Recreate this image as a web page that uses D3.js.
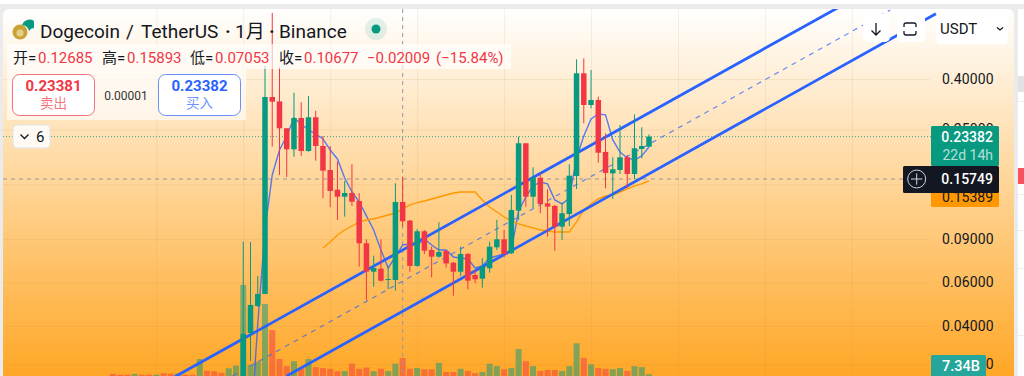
<!DOCTYPE html>
<html lang="en">
<head>
   <meta charset="UTF-8">
   <title>Dogecoin / TetherUS</title>
   <style>
      html, body { margin: 0; padding: 0; background: #fff; overflow: hidden; }
      svg { display: block; }
      text { font-family: Roboto, "Noto Sans CJK SC", sans-serif; }
   </style>
   <script src="https://cdn.jsdelivr.net/npm/d3@7"></script>
</head>
<body>
   <svg id="chart" width="1024" height="376"></svg>
   <script>
      // data. index 0 is the oldest volume bar
      const volumes = [4.1, 3.8, 3.8, 4.1, 3.8, 3.8, 3.8, 4.4, 4.2, 4.2, 3.8, 3.8, 10.2, 5.4, 5.2, 4.6, 6.4, 7.5,
         40.4, 7.8, 9.1, 32.7, 22, 10.2, 7.3, 9.3, 6.4, 10.2, 6.9, 6.5, 6.2, 5.2, 5.3, 8.3, 6.2, 6.7, 5.2, 6.2, 5.3, 8.3, 10.6,
         6.2, 6.5, 6, 6, 8.6, 4.9, 4.9, 6.2, 5.3, 4.4, 4.9, 8.3, 7.3, 6, 6.5, 14.3, 9.3, 7.3, 5.3, 5.7, 5.7, 5.3, 7.3, 16.6,
         10.6, 8, 6.5, 6.2, 6, 6.5, 5.3, 7.3, 6.9, 4]
      const earlyVolumeUp = [0, 0, 0, 1, 0, 0, 1, 0, 0, 1, 0, 0, 1, 0, 0, 0, 1, 1]

      // candles start at bar 18
      const candleStart = 18
      const opens = [.0222, .03749, .04822, .05392, .3382, .3245, .2526, .2077, .2781, .2044, .2799, .2142, .1713, .1425, .1335, .1382, .1283, .08649, .06637, .06826, .06143, .06143, .1271, .1068, .07, .09673, .08126, .07634, .0805, .07219, .06637, .07829, .06437, .06218, .06851, .08332, .08977, .0788, .1172, .2197, .1335, .1594, .1255, .1225, .101, .1136, .162, .4218, .3139, .3289, .2027, .166, .1713, .1928, .165, .2083, .2128]
      const highs = [.0878, .08755, .06377, .4515, .7399, .4473, .2533, .3521, .322, .3414, .2977, .2352, .2142, .1851, .155, .1806, .1379, .08977, .07705, .08977, .06955, .1513, .1609, .1075, .09883, .09791, .0838, .1052, .08126, .07265, .0838, .079, .06744, .07521, .08778, .1075, .09791, .1357, .2337, .2197, .1757, .1666, .1431, .1238, .1264, .1806, .4804, .4849, .4349, .3392, .2412, .1928, .2605, .1969, .2878, .255, .2387]
      const lows = [.021, .02888, .04777, .05392, .2128, .1635, .1605, .1939, .1952, .2031, .1868, .1315, .121, .1075, .1109, .1225, .06955, .05099, .05772, .06046, .05633, .0556, .101, .06637, .06955, .07829, .063, .07563, .0689, .05308, .06377, .05633, .05957, .05718, .06576, .08126, .07591, .07829, .1075, .1217, .1199, .1144, .09198, .08073, .0892, .1016, .1435, .2647, .3044, .1834, .1444, .1307, .165, .1444, .157, .191, .2128]
      const closes = [.03714, .04867, .05392, .3382, .3237, .2526, .2077, .2781, .2044, .2799, .2142, .1702, .1408, .1335, .1382, .1274, .08649, .06637, .06871, .06104, .06201, .1271, .1062, .07, .09673, .08073, .07634, .07976, .07165, .06637, .07829, .06104, .06184, .06955, .0838, .08977, .07829, .118, .2197, .1335, .1594, .1248, .1217, .101, .1144, .1624, .4218, .3139, .3289, .2012, .1666, .1724, .1928, .165, .2097, .2142, .23382]

      // moving averages
      const blueStart = 19
      const maBlue = [.01476, .04077, .09791, .1635, .2064, .2352, .2781, .263, .2487, .2396, .2287, .2064, .1898, .159, .1395, .1271, .1116, .09791, .08126, .06871, .07613, .08514, .08594, .08514, .09003, .08514, .08126, .08126, .07613, .07542, .07472, .06871, .07, .07542, .07685, .07829, .08126, .1169, .1332, .1476, .1532, .1504, .1295, .1248, .1319, .1916, .2352, .2755, .2888, .2862, .2266, .2025, .1916, .188, .1952, .2122]
      const orangeStart = 29
      const maOrange = [.08279, .08755, .09345, .09791, .1016, .1055, .1075, .1085, .1105, .1126, .1147, .1191, .1238, .1264, .1283, .1307, .1332, .1357, .1382, .1395, .1395, .1395, .1295, .1213, .1158, .1105, .1065, .1036, .1016, .0998, .09791, .097, .0961, .0961, .0961, .1055, .118, .1248, .1307, .1344, .1357, .1395, .1435, .1476, .1504, .1546]

      // hand drawn channel, [bar, price] at each end
      const channelUpper = [[8.55, .0249], [100.5, .79]]
      const channelLower = [[24, .02511], [113.6, .735]]
      const channelMiddle = [[16.5, .02511], [107.3, .761]]

      const priceTicks = [.4, .25, .15, .09, .06, .04, .028]
      const yearBars = [6, 18, 30, 42, 54, 66, 78, 90, 102]
      const crosshairBar = 40
      const crosshairPrice = .15749
      const lastPrice = .23382

      // scales
      const xScale = d3.scaleLinear().domain([21, 74]).range([265, 649])
      const yScale = d3.scaleLog().domain([.4, .04]).range([79, 326])
      const volScale = d3.scaleLinear().domain([0, 10]).range([384, 359.5])

      const UP = '#089981', DOWN = '#f23645', BLUE = '#2962ff', ORANGE = '#ff9800'
      const svg = d3.select('#chart')

      const defs = svg.append('defs')
      const grad = defs.append('linearGradient').attr('id', 'bg').attr('gradientUnits', 'userSpaceOnUse')
         .attr('x1', 0).attr('y1', 9).attr('x2', 0).attr('y2', 376)
      grad.append('stop').attr('offset', 0).attr('stop-color', '#ffffff')
      grad.append('stop').attr('offset', 1).attr('stop-color', '#ffa726')
      defs.append('clipPath').attr('id', 'panel').append('rect')
         .attr('x', 3).attr('y', 9).attr('width', 1011).attr('height', 380).attr('rx', 6)

      // page around the panel
      svg.append('rect').attr('y', 4).attr('width', 1024).attr('height', 372).attr('fill', '#ebebeb')
      svg.append('rect').attr('x', 1018).attr('y', 9).attr('width', 6).attr('height', 367).attr('fill', '#fff')
      svg.append('rect').attr('x', 1018).attr('y', 76).attr('width', 6).attr('height', 16).attr('fill', '#e2e2e2')
      svg.append('rect').attr('x', 1018).attr('y', 168).attr('width', 6).attr('height', 16).attr('fill', '#f7525f')
      svg.selectAll('.side-rule').data([101, 194, 230, 268, 335]).enter().append('rect')
         .attr('x', 1018).attr('y', d => d).attr('width', 6).attr('height', 1).attr('fill', '#eeeeee')

      const chart = svg.append('g').attr('clip-path', 'url(#panel)')
      chart.append('rect').attr('x', 3).attr('y', 9).attr('width', 1011).attr('height', 367).attr('fill', 'url(#bg)')

      // grid
      const yGrid = d3.axisLeft(yScale).tickValues(priceTicks).tickSize(-927).tickFormat('')
      const xGrid = d3.axisTop(xScale).tickValues(yearBars).tickSize(-367).tickFormat('')
      const grid = chart.append('g')
      grid.append('g').attr('transform', 'translate(3,0)').call(yGrid)
      grid.append('g').attr('transform', 'translate(0,9)').call(xGrid)
      grid.selectAll('.domain').remove()
      grid.selectAll('line').attr('stroke', '#b08a50').attr('stroke-opacity', .12)

      // volume
      chart.append('g').selectAll('rect').data(volumes).enter().append('rect')
         .attr('x', (d, i) => xScale(i) - 3)
         .attr('y', d => volScale(d))
         .attr('width', 6)
         .attr('height', d => volScale(0) - volScale(d))
         .attr('fill', (d, i) => {
            const up = i < candleStart ? earlyVolumeUp[i] : closes[i - candleStart] >= opens[i - candleStart]
            return up ? UP : DOWN
         })
         .attr('fill-opacity', .5)

      // last price and crosshair
      chart.append('line').attr('x1', 3).attr('x2', 931).attr('y1', yScale(lastPrice)).attr('y2', yScale(lastPrice))
         .attr('stroke', UP).attr('stroke-dasharray', '1 2').attr('stroke-opacity', .8)
      chart.append('line').attr('x1', 3).attr('x2', 903).attr('y1', yScale(crosshairPrice)).attr('y2', yScale(crosshairPrice))
         .attr('stroke', '#9598a1').attr('stroke-dasharray', '4 4')
      chart.append('line').attr('x1', xScale(crosshairBar)).attr('x2', xScale(crosshairBar)).attr('y1', 9).attr('y2', 376)
         .attr('stroke', '#9598a1').attr('stroke-dasharray', '4 4')

      // moving averages
      const maLine = start => d3.line().x((d, i) => xScale(i + start)).y(d => yScale(d))
      chart.append('path').attr('d', maLine(blueStart)(maBlue))
         .attr('fill', 'none').attr('stroke', BLUE).attr('stroke-opacity', .8).attr('stroke-width', 1.4)
      chart.append('path').attr('d', maLine(orangeStart)(maOrange))
         .attr('fill', 'none').attr('stroke', ORANGE).attr('stroke-width', 1.4)

      // channel
      const drawLine = d3.line().x(d => xScale(d[0])).y(d => yScale(d[1]))
      chart.append('path').attr('d', drawLine(channelUpper)).attr('fill', 'none').attr('stroke', BLUE).attr('stroke-width', 2.8)
      chart.append('path').attr('d', drawLine(channelLower)).attr('fill', 'none').attr('stroke', BLUE).attr('stroke-width', 2.8)
      chart.append('path').attr('d', drawLine(channelMiddle)).attr('fill', 'none').attr('stroke', BLUE)
         .attr('stroke-opacity', .7).attr('stroke-dasharray', '5 5').attr('stroke-width', 1.2)

      // candles sit on top of the drawings
      const candles = chart.append('g').selectAll('g').data(opens).enter().append('g')
         .attr('fill', (d, i) => closes[i] >= d ? UP : DOWN)
         .attr('stroke', (d, i) => closes[i] >= d ? UP : DOWN)
      candles.append('line')
         .attr('x1', (d, i) => xScale(i + candleStart))
         .attr('x2', (d, i) => xScale(i + candleStart))
         .attr('y1', (d, i) => yScale(highs[i]))
         .attr('y2', (d, i) => yScale(lows[i]))
      candles.append('rect')
         .attr('x', (d, i) => xScale(i + candleStart) - 2.75)
         .attr('y', (d, i) => yScale(Math.max(d, closes[i])))
         .attr('width', 5.5)
         .attr('height', (d, i) => Math.max(1, Math.abs(yScale(d) - yScale(closes[i]))))
         .attr('stroke', 'none')

      // price axis
      const yAxis = d3.axisRight(yScale).tickValues(priceTicks).tickSize(0).tickPadding(0).tickFormat(d3.format('.5f'))
      const axisG = chart.append('g').attr('transform', 'translate(942,0)').call(yAxis)
      axisG.select('.domain').remove()
      axisG.selectAll('text').attr('fill', '#131722').style('font-size', '14px').style('letter-spacing', '.1px')

      // price tags
      const tag = (x, y, w, h, fill) => chart.append('rect').attr('x', x).attr('y', y).attr('width', w).attr('height', h).attr('fill', fill).attr('rx', 1.5)
      const label = (x, y, str, size, fill, anchor, weight) => svg.append('text').attr('x', x).attr('y', y).text(str)
         .attr('font-size', size).attr('fill', fill).attr('text-anchor', anchor || 'start').attr('font-weight', weight || 400)

      tag(931, 355, 55, 22, '#26a69a')
      tag(931, 186, 68, 21, ORANGE)
      tag(931, 126, 68, 40, UP)
      tag(903, 166, 96, 27, '#131722')
      label(993, 142, '0.23382', 14, '#fff', 'end', 500)
      label(993, 160, '22d 14h', 14, '#fff', 'end').attr('fill-opacity', .7)
      label(993, 184, '0.15749', 14, '#fff', 'end', 500)
      label(993, 202, '0.15389', 14, '#131722', 'end')
      label(942, 371, '7.34B', 14.5, '#fff', 'start', 500)
      svg.append('circle').attr('cx', 916.7).attr('cy', 179).attr('r', 9).attr('fill', 'none').attr('stroke', '#d1d4dc')
      svg.append('path').attr('d', 'M911 179H922.4M916.7 173.3V184.7').attr('stroke', '#d1d4dc')

      // legend backdrops
      svg.append('rect').attr('x', 7).attr('y', 44).attr('width', 504).attr('height', 25).attr('fill', '#fff').attr('fill-opacity', .65)
      svg.append('rect').attr('x', 7).attr('y', 69).attr('width', 239).attr('height', 51).attr('fill', '#fff').attr('fill-opacity', .65)

      // title
      svg.append('circle').attr('cx', 20).attr('cy', 32).attr('r', 7.5).attr('fill', '#c9a233')
      svg.append('circle').attr('cx', 20).attr('cy', 33).attr('r', 3.5).attr('fill', '#e6cf8c')
      svg.append('path').attr('d', 'M22 25A8 8 0 0 1 34 21L34 28A6 6 0 0 0 29 31A7 7 0 0 0 22 25Z').attr('fill', '#089981')
      label(40, 38, 'Dogecoin', 19, '#131722')
      label(126, 38, '/', 19, '#131722')
      label(141, 38, 'TetherUS', 19, '#131722')
      label(225, 38, '·', 19, '#131722', 'start', 700)
      label(235, 38, '1月', 19, '#131722')
      label(269, 38, '·', 19, '#131722', 'start', 700)
      label(279, 38, 'Binance', 19, '#131722')
      svg.append('circle').attr('cx', 376).attr('cy', 29).attr('r', 11).attr('fill', '#089981').attr('fill-opacity', .12)
      svg.append('circle').attr('cx', 376).attr('cy', 29).attr('r', 4.5).attr('fill', '#089981')

      // ohlc row
      const ohlc = [[13, '开=', '#131722'], [38, '0.12685', DOWN], [102, '高=', '#131722'], [127, '0.15893', DOWN],
         [190, '低=', '#131722'], [215, '0.07053', DOWN], [279, '收=', '#131722'], [304, '0.10677', DOWN], [367, '−0.02009', DOWN], [436, '(−15.84%)', DOWN]]
      ohlc.forEach(d => label(d[0], 63, d[1], 15, d[2]))

      // buy and sell
      const trade = (x, color, price, word) => {
         svg.append('rect').attr('x', x).attr('y', 74.5).attr('width', 82).attr('height', 41).attr('rx', 7)
            .attr('fill', '#fff').attr('stroke', color).attr('stroke-opacity', .7)
         label(x + 41, 91, price, 15, color, 'middle', 700)
         label(x + 41, 108, word, 13.5, color, 'middle').attr('fill-opacity', .7)
      }
      trade(12.5, DOWN, '0.23381', '卖出')
      trade(158.5, BLUE, '0.23382', '买入')
      label(126, 100, '0.00001', 12, '#333', 'middle')

      // collapsed indicators chip
      svg.append('rect').attr('x', 13).attr('y', 125).attr('width', 37).attr('height', 23).attr('rx', 4)
         .attr('fill', '#fff').attr('fill-opacity', .85).attr('stroke', '#e0e3eb')
      svg.append('path').attr('d', 'M20.5 134.5L24.5 138.5L28.5 134.5').attr('fill', 'none').attr('stroke', '#131722').attr('stroke-width', 1.3)
      label(36, 142, '6', 15, '#131722')

      // top right buttons
      const button = (x, y, w, h) => svg.append('rect').attr('x', x).attr('y', y).attr('width', w).attr('height', h).attr('rx', 5).attr('fill', '#fff')
      button(863, 14, 27, 28)
      button(897, 14, 28, 28)
      button(936, 14, 72, 30)
      svg.append('path').attr('d', 'M876 23V35M871.5 30.5L876 35L880.5 30.5').attr('fill', 'none').attr('stroke', '#131722').attr('stroke-width', 1.3)
      svg.append('path').attr('d', 'M904 27V25Q904 23 906 23H914Q916 23 916 25V27M904 31V33Q904 35 906 35H914Q916 35 916 33V31')
         .attr('fill', 'none').attr('stroke', '#131722').attr('stroke-width', 1.3)
      label(940, 34, 'USDT', 15, '#131722')
      svg.append('path').attr('d', 'M997 27.5L1000 30L1003 27.5').attr('fill', 'none').attr('stroke', '#131722').attr('stroke-width', 1.3)
   </script>
</body>
</html>
